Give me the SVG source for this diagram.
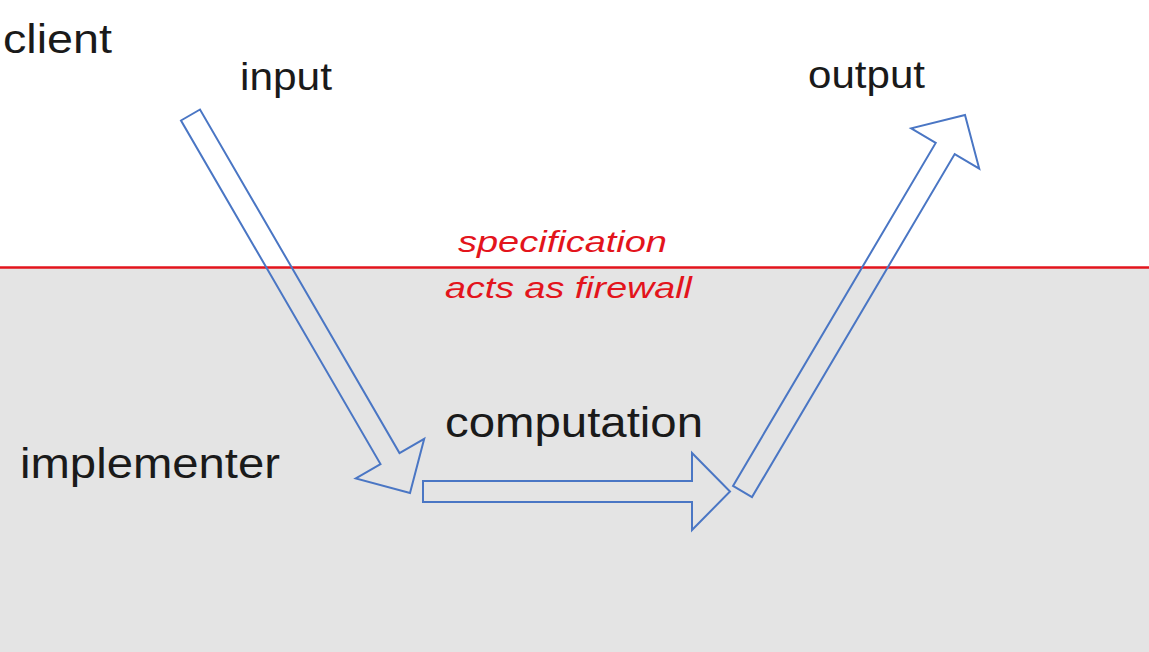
<svg xmlns="http://www.w3.org/2000/svg" width="1149" height="652" viewBox="0 0 1149 652">
  <style>
    .lbl { font-family: "Liberation Sans", Arial, sans-serif; fill: #1a1a1a; }
    .spec { font-family: "Liberation Sans", Arial, sans-serif; font-style: italic; fill: #e3141c; font-size: 30px; }
    .arrow { fill: none; stroke: #4a76c4; stroke-width: 2; stroke-linejoin: miter; }
  </style>
  <rect x="0" y="0" width="1149" height="652" fill="#ffffff"/>
  <g id="implementer-region">
    <rect x="0" y="268" width="1149" height="384" fill="#e4e4e4"/>
  </g>
  <g id="specification-firewall">
    <line x1="0" y1="267.5" x2="1149" y2="267.5" stroke="#e3141c" stroke-width="2.5"/>
    <text class="spec" x="458" y="252" textLength="209" lengthAdjust="spacingAndGlyphs">specification</text>
    <text class="spec" x="445" y="298" textLength="247" lengthAdjust="spacingAndGlyphs">acts as firewall</text>
  </g>
  <g id="client">
    <text class="lbl" x="3" y="53" font-size="41" textLength="109" lengthAdjust="spacingAndGlyphs">client</text>
  </g>
  <g id="input">
    <text class="lbl" x="240" y="90" font-size="39" textLength="92" lengthAdjust="spacingAndGlyphs">input</text>
  </g>
  <g id="output">
    <text class="lbl" x="808" y="88" font-size="38" textLength="117" lengthAdjust="spacingAndGlyphs">output</text>
  </g>
  <g id="implementer">
    <text class="lbl" x="20" y="478" font-size="42" textLength="260" lengthAdjust="spacingAndGlyphs">implementer</text>
  </g>
  <g id="computation">
    <text class="lbl" x="445" y="437" font-size="42" textLength="258" lengthAdjust="spacingAndGlyphs">computation</text>
  </g>
  <g id="connectors">
    <polygon class="arrow" points="181,120.5 200,109.5 399.5,453.1 424.2,438.8 410,493 355.8,478.4 380.5,464.1"/>
    <polygon class="arrow" points="423,481 692,481 692,453 730,491.5 692,530 692,502 423,502"/>
    <polygon class="arrow" points="733,485.9 935.7,142.9 911.2,128.4 965,115 979.2,168.6 954.7,154.1 752,497.1"/>
  </g>
</svg>
